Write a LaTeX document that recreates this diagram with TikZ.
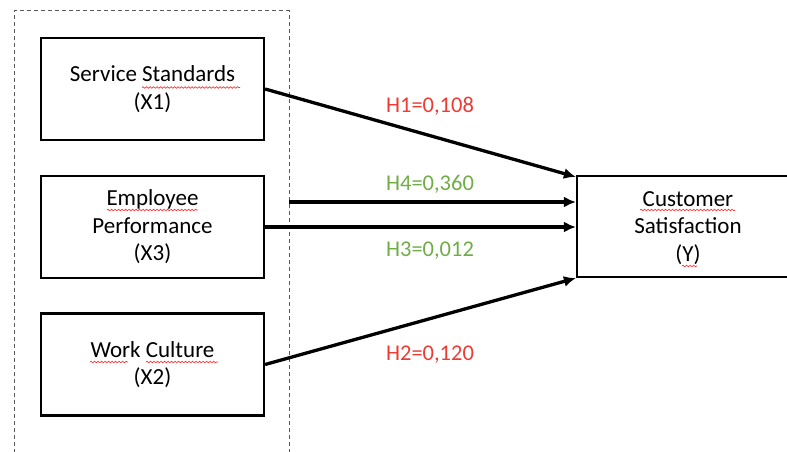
\documentclass[tikz,border=0pt]{standalone}
\usepackage{fontspec}
\setmainfont{Carlito}
\usetikzlibrary{arrows.meta,calc,decorations.pathmorphing}
\definecolor{hred}{RGB}{236,60,52}
\definecolor{hgreen}{RGB}{112,173,71}
\begin{document}
\begin{tikzpicture}[x=1pt,y=-1pt,
  txt/.style={align=center,inner sep=0pt,font=\fontsize{23}{27.5}\selectfont},
  box/.style={txt,draw=black,line width=2.2pt,minimum width=223pt,minimum height=102pt},
  link/.style={line width=3.3pt,-{Latex[length=12pt,width=11pt]}},
  lab/.style={font=\fontsize{22.5}{26}\selectfont},
  grp/.style={draw=black!65,line width=1pt,dash pattern=on 4pt off 3pt},
  wavy/.style={draw=red!80,line width=0.7pt,decorate,decoration={snake,amplitude=0.8pt,segment length=3.5pt}}]
\useasboundingbox (0,0) rectangle (787,452);
\draw[grp] (14,460) -- (14,11) -- (289,11) -- (289,460);
\node[box] (x1) at (152.5,89) {Service Standards\\(X1)};
\node[box] (x3) at (152.5,227) {Employee\\Performance\\(X3)};
\node[box] (x2) at (152.5,364.5) {Work Culture\\(X2)};
\node[box,minimum width=260pt,minimum height=101pt] (y) at (707,226.5) {};
\node[txt] (yt) at (688,228) {Customer\\Satisfaction\\(Y)};
\coordinate (h4s) at (289,202);
\draw[link] (x1.east) -- ($(y.north west)+(0,2)$);
\draw[link] (h4s) -- (h4s -| y.west);
\draw[link] (x3.east) -- (x3.east -| y.west);
\draw[link] (x2.east) -- (y.south west);
\node[lab,text=hred] (l1) at (430,106) {H1=0,108};
\node[lab,text=hgreen] (l4) at (430,184) {H4=0,360};
\node[lab,text=hgreen] (l3) at (430,251) {H3=0,012};
\node[lab,text=hred] (l2) at (430,355) {H2=0,120};
\draw[wavy] (142,87.5) -- (240,87.5);
\draw[wavy] (107,210) -- (198,210);
\draw[wavy] (90,362) -- (128,362);
\draw[wavy] (146,362) -- (218,362);
\draw[wavy] (640,210) -- (735,210);
\draw[wavy] (682,266) -- (697,266);
\end{tikzpicture}
\end{document}
